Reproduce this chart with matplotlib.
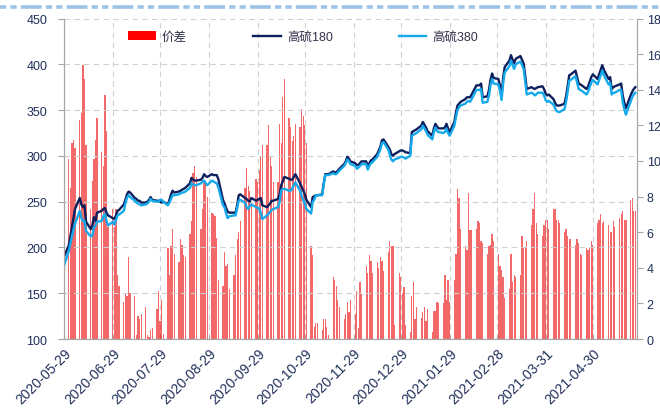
import matplotlib
matplotlib.use("Agg")
import matplotlib.pyplot as plt
from matplotlib.lines import Line2D
import pandas as pd

plt.rcParams['font.family'] = ['Liberation Sans', 'Noto Sans CJK SC']
plt.rcParams['lines.scale_dashes'] = False

# trading days, 2020-05-29 .. 2021-05-27
dates = pd.bdate_range("2020-05-29", "2021-05-27")

# 高硫180 (left axis), one value per trading day, grouped by week
hs180 = [190,
         202, 212, 222, 232, 242,  254, 247, 244, 246, 228,  220, 224, 233, 229, 238,
         240, 242, 243, 238, 235,  232, 231, 235, 240, 241,  247, 252, 258, 261, 260,
         254, 253, 251, 251, 249,  249, 250, 252, 255, 252,  251, 251, 250, 249, 250,
         247, 252, 258, 262, 260,  261, 262, 263, 264, 265,  270, 276, 274, 273, 273,
         274, 276, 280, 278, 277,  280, 279, 279, 279, 275,  252, 248, 243, 239, 238,
         238, 238, 246, 257, 258,  254, 253, 251, 250, 254,  251, 252, 253, 254, 246,
         244, 246, 248, 251, 251,  253, 258, 268, 272, 277,  275, 274, 274, 277, 280,
         270, 266, 262, 258, 252,  244, 255, 256, 257, 257,  258, 270, 280, 280, 280,
         283, 282, 282, 284, 286,  291, 294, 299, 297, 294,  292, 290, 290, 292, 294,
         294, 288, 292, 295, 296,  302, 306, 310, 317, 318,  310, 307, 302, 300, 302,
         305, 306, 306, 305, 304,  303, 326, 327, 328, 329,  333, 337, 334, 331, 327,
         322, 330, 335, 332, 330,  330, 331, 335, 330, 326,  337, 347, 355, 357, 359,
         362, 364, 364, 364, 367,  377, 377, 377, 379, 364,  365, 372, 383, 390, 385,
         384, 377, 366, 385, 397,  404, 410, 405, 401, 406,  409, 405, 401, 388, 373,
         375, 374, 373, 374, 375,  376, 373, 368, 366, 367,  362, 358, 355, 355, 355,
         357, 365, 376, 388, 389,  393, 386, 379, 378, 377,  373, 376, 381, 386, 389,
         384, 389, 394, 399, 394,  384, 386, 373, 375, 376,  378, 379, 366, 358, 352,
         366, 370, 373, 375]

# 高硫380 (left axis)
hs380 = [180,
         196, 204, 212, 219, 226,  240, 232, 229, 229, 218,  212, 213, 222, 224, 228,
         229, 234, 237, 229, 224,  228, 225, 230, 235, 236,  240, 248, 254, 257, 255,
         251, 249, 248, 247, 246,  247, 248, 250, 253, 251,  250, 250, 252, 252, 250,
         246, 249, 253, 257, 257,  258, 259, 260, 260, 261,  265, 270, 269, 268, 268,
         270, 272, 273, 270, 268,  273, 272, 271, 270, 266,  246, 244, 237, 232, 234,
         235, 235, 243, 251, 252,  249, 244, 242, 245, 247,  244, 243, 243, 238, 231,
         235, 237, 239, 241, 242,  244, 250, 262, 264, 264,  262, 262, 264, 268, 271,
         262, 256, 252, 248, 242,  237, 250, 252, 257, 257,  257, 268, 279, 279, 279,
         281, 280, 280, 282, 284,  289, 292, 296, 294, 291,  289, 286, 287, 289, 291,
         291, 285, 289, 292, 293,  299, 303, 307, 314, 315,  307, 301, 296, 294, 296,
         298, 299, 299, 298, 297,  300, 322, 323, 324, 325,  329, 333, 330, 327, 323,
         318, 326, 331, 327, 326,  325, 326, 330, 325, 322,  333, 342, 350, 353, 355,
         357, 359, 360, 359, 362,  372, 372, 372, 373, 358,  359, 366, 377, 384, 379,
         378, 371, 361, 379, 391,  398, 404, 399, 395, 400,  403, 399, 395, 382, 367,
         369, 368, 366, 367, 369,  369, 366, 361, 359, 360,  356, 352, 349, 348, 348,
         351, 359, 370, 382, 383,  387, 380, 373, 372, 371,  367, 370, 375, 380, 383,
         378, 383, 388, 393, 388,  378, 380, 367, 369, 369,  372, 372, 359, 351, 345,
         359, 364, 367, 369]

# 价差 (right axis)
spread = [11.1,
          10.1, 8.5, 11.0, 11.2, 10.7,  12.3, 12.7, 15.4, 14.6, 10.9,  7.3, 8.9, 10.1, 11.2, 12.4,
          10.5, 9.7, 13.7, 11.7, 6.3,   7.3, 6.3, 7.3, 3.6, 3.0,       2.1, 2.6, 2.4, 4.6, 2.6,
          2.4, 0.2, 1.3, 1.1, 1.4,      1.8, 0.2, 0.1, 0.5, 0.6,       1.7, 2.7, 1.0, 2.2, 0.3,
          5.1, 3.6, 5.2, 6.2, 4.8,      4.3, 5.6, 5.3, 4.7, 4.6,       5.9, 6.6, 9.3, 9.7, 9.1,
          6.2, 7.3, 8.9, 8.9, 8.0,      7.1, 7.0, 6.9, 5.7, 3.3,       3.0, 4.9, 4.1, 4.2, 2.8,
          3.6, 4.7, 5.6, 6.0, 6.6,      8.5, 9.6, 8.6, 8.3, 7.7,       9.0, 8.8, 9.5, 10.3, 10.9,
          10.9, 12.0, 10.2, 9.7, 8.8,   8.8, 12.1, 11.0, 13.6, 14.6,   12.4, 11.9, 11.1, 11.4, 12.1,
          11.9, 12.9, 12.5, 12.0, 11.0, 5.2, 4.7, 0.7, 0.9, 0.9,       0.5, 1.1, 1.1, 0.7, 0.2,
          3.5, 3.3, 3.0, 2.2, 1.8,      1.1, 1.4, 2.1, 1.5, 2.2,       1.4, 2.7, 0.6, 3.2, 2.5,
          4.1, 3.7, 4.7, 4.4, 3.7,      4.3, 4.0, 4.6, 4.4, 3.8,       4.9, 5.5, 5.2, 5.2, 0.8,
          3.7, 3.5, 2.6, 2.9, 0.8,      0.4, 2.4, 3.2, 1.1, 1.8,       1.2, 1.5, 1.8, 1.0, 1.7,
          0.4, 1.6, 1.6, 2.1, 2.0,      2.0, 3.6, 2.2, 3.3, 2.1,       3.3, 4.8, 8.4, 7.9, 6.2,
          5.2, 5.0, 8.2, 6.1, 6.1,      6.2, 6.6, 6.5, 5.5, 5.4,       4.8, 5.2, 5.3, 5.9, 5.5,
          4.8, 4.1, 3.9, 3.5, 2.3,      2.8, 4.8, 3.2, 3.6, 3.5,       3.6, 5.8, 5.1, 5.1, 5.5,
          6.4, 7.3, 8.2, 6.5, 5.9,      5.8, 6.4, 6.7, 6.7, 6.2,       7.3, 7.3, 6.7, 6.7, 6.5,
          6.0, 6.2, 5.8, 5.6, 5.6,      5.3, 5.6, 5.4, 4.8, 4.7,       5.1, 5.0, 5.1, 5.5, 5.3,
          6.5, 6.7, 7.0, 6.5, 6.6,      6.4, 6.0, 6.0, 6.6, 6.3,       6.8, 7.0, 7.2, 6.7, 6.7,
          7.8, 7.9, 7.2, 7.2]

tick_labels = ["2020-05-29", "2020-06-29", "2020-07-29", "2020-08-29", "2020-09-29",
               "2020-10-29", "2020-11-29", "2020-12-29", "2021-01-29", "2021-02-28",
               "2021-03-31", "2021-04-30"]

TXT = "#1F2F5A"
SPINE = "#A6A6A6"
GRID = "#D0D0D0"

fig = plt.figure(figsize=(6.6, 4.1), dpi=100)
ax2 = fig.add_axes([0.097, 0.1707, 0.868, 0.7817])   # bars, right axis, owns the x axis
ax = ax2.twinx()                                       # lines, left axis
ax.yaxis.tick_left()
ax.yaxis.set_label_position("left")
ax2.yaxis.tick_right()
ax.set_zorder(ax2.get_zorder() + 1)
ax.patch.set_visible(False)

bars = ax2.bar(dates, spread, width=0.8, color="#EE1C1C", alpha=0.66,
               linewidth=0, label="价差", zorder=2)
l180, = ax.plot(dates, hs180, color="#0E1F5E", lw=1.7, label="高硫180")
l380, = ax.plot(dates, hs380, color="#14A9EA", lw=1.7, label="高硫380")

ax.set_ylim(100, 450)
ax.set_yticks(range(100, 451, 50))
ax2.set_ylim(0, 18)
ax2.set_yticks(range(0, 19, 2))

xticks = pd.to_datetime(tick_labels)
ax2.set_xlim(pd.Timestamp("2020-05-29"), pd.Timestamp("2021-05-28"))
ax2.set_xticks(xticks)
ax2.set_xticklabels(tick_labels, rotation=45, ha="right", rotation_mode="anchor")

# horizontal grid follows the left axis, vertical grid the month ticks
ax.grid(True, axis="y", color=GRID, ls=(0, (4, 3)), lw=0.8)
ax2.grid(True, axis="x", color=GRID, ls=(0, (4, 3)), lw=0.8, zorder=0)
ax2.set_axisbelow(True)

for a in (ax, ax2):
    for s in a.spines.values():
        s.set_color(SPINE)
    a.spines["top"].set_visible(False)

ax.tick_params(axis="y", colors=SPINE, labelcolor=TXT, labelsize=9, length=4, pad=8)
ax2.tick_params(axis="x", colors=SPINE, labelcolor=TXT, labelsize=10, length=3,
                direction="in", pad=5)
ax2.tick_params(axis="y", colors=SPINE, labelcolor=TXT, labelsize=9, length=4, pad=3)

leg = fig.legend([bars, l180, l380], ["价差", "高硫180", "高硫380"],
                 loc="center left", bbox_to_anchor=(128 / 660, 1 - 38 / 410),
                 ncol=3, frameon=False, fontsize=9, handlelength=2.2,
                 handletextpad=0.5, columnspacing=5.3, borderpad=0, borderaxespad=0)
for t in leg.get_texts():
    t.set_color("#33334D")
leg.legend_handles[0].set_alpha(1.0)
leg.legend_handles[0].set_color("#FF0000")

# decorative dashed band at the very top
top = Line2D([0, 1], [1 - 8 / 410, 1 - 8 / 410], transform=fig.transFigure,
             color="#9DC3E6", lw=2.6, dashes=(4.5, 3, 4.5, 3, 15, 3))
fig.add_artist(top)

fig.savefig("out.png", dpi=100)
